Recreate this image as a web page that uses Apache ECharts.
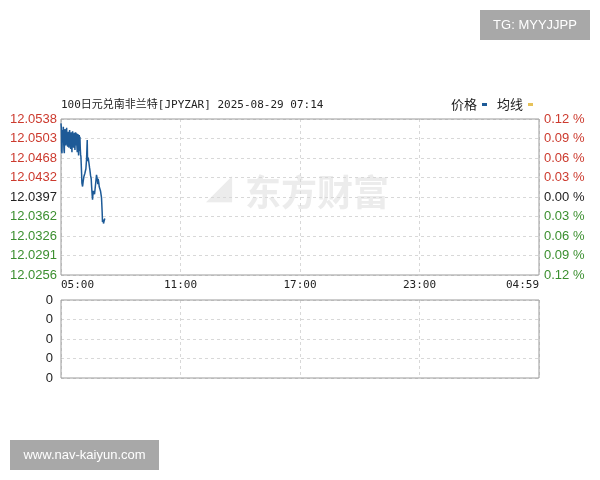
<!DOCTYPE html>
<html>
<head>
<meta charset="utf-8">
<script src="https://cdn.jsdelivr.net/npm/echarts@6/dist/echarts.min.js"></script>
<style>
html,body{margin:0;padding:0;background:#fff;}
#c{width:600px;height:480px;}
</style>
</head>
<body>
<div id="c"></div>
<script>
// ---- data ----
var titleText = '100日元兑南非兰特[JPYZAR] 2025-08-29 07:14';
var timeLabels = ['05:00', '11:00', '17:00', '23:00', '04:59'];
var priceTicks = ['12.0538', '12.0503', '12.0468', '12.0432', '12.0397', '12.0362', '12.0326', '12.0291', '12.0256'];
var percentTicks = ['0.12 %', '0.09 %', '0.06 %', '0.03 %', '0.00 %', '0.03 %', '0.06 %', '0.09 %', '0.12 %'];
var volumeTicks = ['0', '0', '0', '0', '0'];
var priceMin = 12.0256, priceMax = 12.0538;
// minutes after 05:00
var minutes = [0,1,2,3,4,5,6,7,8,9,10,11,12,13,14,15,16,17,18,19,20,21,22,23,24,25,26,27,28,29,30,31,32,33,34,35,36,37,38,39,40,41,42,43,44,45,46,47,48,49,50,51,52,53,54,55,56,57,58,59,60,62,63,65,67,69,72,75,77,79,80,82,84,86,87,89,91,92,94,95,97,99,101,103,105,107,109,111,112,114,115,117,119,121,122,124,125,127,128,130,132];
var prices = [12.0530,12.0522,12.0480,12.0476,12.0512,12.0518,12.0505,12.0524,12.0498,12.0482,12.0476,12.0510,12.0520,12.0500,12.0516,12.0490,12.0508,12.0522,12.0495,12.0512,12.0488,12.0502,12.0515,12.0494,12.0486,12.0506,12.0518,12.0497,12.0510,12.0484,12.0500,12.0514,12.0490,12.0478,12.0504,12.0516,12.0493,12.0508,12.0486,12.0500,12.0513,12.0495,12.0482,12.0507,12.0514,12.0490,12.0503,12.0512,12.0488,12.0478,12.0500,12.0511,12.0485,12.0472,12.0496,12.0509,12.0480,12.0506,12.0486,12.0474,12.0470,12.0440,12.0422,12.0416,12.0426,12.0434,12.0440,12.0448,12.0465,12.0500,12.0462,12.0468,12.0466,12.0450,12.0446,12.0436,12.0430,12.0418,12.0400,12.0392,12.0408,12.0410,12.0402,12.0405,12.0425,12.0437,12.0430,12.0420,12.0430,12.0422,12.0416,12.0412,12.0408,12.0400,12.0396,12.0370,12.0352,12.0356,12.0349,12.0354,12.0358];
var avgLine = [];
var volumes = [];

// ---- build ----
var step = (priceMax - priceMin) / 8;
function tickIndex(v) { return Math.round((v - priceMin) / step); }
var RED = '#cc3a2e', GREEN = '#3b8f2f', BLACK = '#222222';
function tickColor(v) {
  var i = tickIndex(v);
  return i > 4 ? RED : (i < 4 ? GREEN : BLACK);
}
var priceData = minutes.map(function (m, i) { return [m, prices[i]]; });

var chart = echarts.init(document.getElementById('c'));
var dash = { type: [3, 3], color: '#d8d8d8', width: 1 };
chart.setOption({
  animation: false,
  backgroundColor: '#fff',
  grid: [
    { left: 61, right: 61, top: 119, height: 156, show: true, borderColor: '#9a9a9a', borderWidth: 1, z: 3 },
    { left: 61, right: 61, top: 300, height: 78, show: true, borderColor: '#9a9a9a', borderWidth: 1, z: 3 }
  ],
  legend: {
    right: 67, top: 98, padding: 0, align: 'right', itemWidth: 5, itemHeight: 3, itemGap: 10, icon: 'rect',
    textStyle: { fontFamily: 'Noto Sans CJK SC', fontSize: 13, color: '#222' },
    data: ['价格', '均线']
  },
  graphic: [
    { type: 'text', left: 61, top: 100, style: { text: titleText, font: '11px "DejaVu Sans Mono", "Noto Sans CJK SC"', fill: '#222' } },
    { type: 'text', left: 245, top: 174, z: 0, style: { text: '东方财富', font: 'bold 36px "Noto Sans CJK SC"', fill: '#ececec' } },
    { type: 'text', left: 206, top: 172, z: 0, style: { text: '◢', font: 'bold 34px "DejaVu Sans"', fill: '#ececec' } },
    { type: 'rect', shape: { x: 480, y: 10, width: 110, height: 30 }, style: { fill: '#a8a8a8' } },
    { type: 'text', x: 535, y: 25, style: { text: 'TG: MYYJJPP', font: '13px "Liberation Sans"', fill: '#fff', align: 'center', verticalAlign: 'middle' } },
    { type: 'rect', shape: { x: 10, y: 440, width: 149, height: 30 }, style: { fill: '#a8a8a8' } },
    { type: 'text', x: 84.5, y: 455, style: { text: 'www.nav-kaiyun.com', font: '13px "Liberation Sans"', fill: '#fff', align: 'center', verticalAlign: 'middle' } }
  ],
  xAxis: [
    {
      gridIndex: 0, type: 'value', min: 0, max: 1440, interval: 360,
      axisLine: { show: false }, axisTick: { show: false },
      splitLine: { show: true, lineStyle: dash },
      axisLabel: {
        margin: 5, fontFamily: 'DejaVu Sans Mono', fontSize: 11, color: '#222',
        alignMinLabel: 'left', alignMaxLabel: 'right',
        formatter: function (v) { return timeLabels[Math.round(v / 360)]; }
      }
    },
    {
      gridIndex: 1, type: 'value', min: 0, max: 1440, interval: 360,
      axisLine: { show: false }, axisTick: { show: false },
      splitLine: { show: true, lineStyle: dash },
      axisLabel: { show: false }
    }
  ],
  yAxis: [
    {
      gridIndex: 0, type: 'value', min: priceMin, max: priceMax, interval: step,
      axisLine: { show: false }, axisTick: { show: false },
      splitLine: { show: true, lineStyle: dash },
      axisLabel: {
        margin: 4, fontFamily: 'Liberation Sans', fontSize: 13,
        color: function (v) { return tickColor(v); },
        formatter: function (v) { return priceTicks[8 - tickIndex(v)]; }
      }
    },
    {
      gridIndex: 0, type: 'value', position: 'right', min: priceMin, max: priceMax, interval: step,
      axisLine: { show: false }, axisTick: { show: false }, splitLine: { show: false },
      axisLabel: {
        margin: 5, fontFamily: 'Liberation Sans', fontSize: 13,
        color: function (v) { return tickColor(v); },
        formatter: function (v) { return percentTicks[8 - tickIndex(v)]; }
      }
    },
    {
      gridIndex: 1, type: 'value', min: 0, max: 4, interval: 1,
      axisLine: { show: false }, axisTick: { show: false },
      splitLine: { show: true, lineStyle: dash },
      axisLabel: {
        margin: 8, fontFamily: 'Liberation Sans', fontSize: 13, color: '#222',
        formatter: function (v) { return volumeTicks[Math.round(v)]; }
      }
    }
  ],
  series: [
    {
      name: '价格', type: 'line', xAxisIndex: 0, yAxisIndex: 0, data: priceData,
      showSymbol: false, lineStyle: { color: '#1d5a97', width: 1.5 }, itemStyle: { color: '#1d5a97' }, z: 5
    },
    {
      name: '均线', type: 'line', xAxisIndex: 0, yAxisIndex: 0, data: avgLine,
      showSymbol: false, lineStyle: { color: '#e6c25a', width: 1 }, itemStyle: { color: '#e6c25a' }
    },
    {
      name: '成交量', type: 'bar', xAxisIndex: 1, yAxisIndex: 2, data: volumes
    }
  ]
});
</script>
</body>
</html>
